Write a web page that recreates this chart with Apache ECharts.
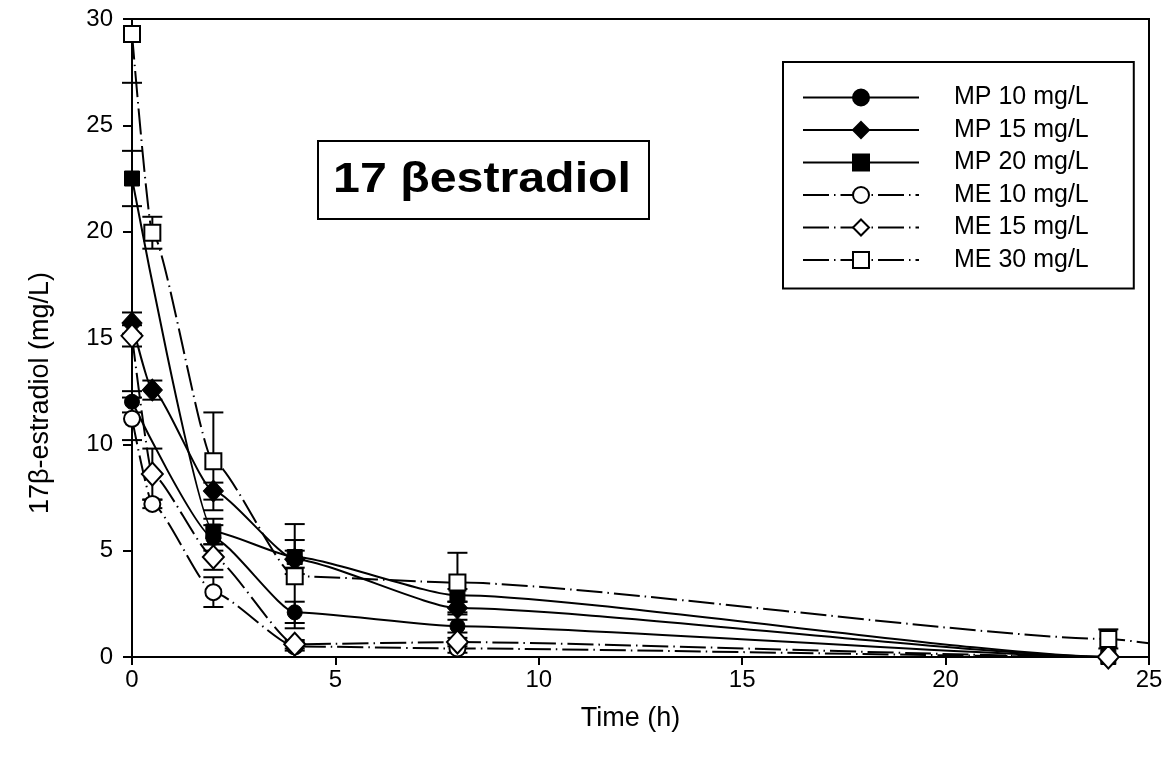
<!DOCTYPE html>
<html><head><meta charset="utf-8">
<script src="https://cdn.jsdelivr.net/npm/echarts@6/dist/echarts.min.js"></script>
<style>html,body{margin:0;padding:0;background:#fff}#c{width:1176px;height:764px}</style>
</head><body><div id="c"></div>
<script>
// ---- data ----
const seriesNames = ['MP 10 mg/L','MP 15 mg/L','MP 20 mg/L','ME 10 mg/L','ME 15 mg/L','ME 30 mg/L'];

const mp10Time  = [0, 2, 4, 8, 24];
const mp10Value = [12.0, 5.6, 2.1, 1.45, 0];
const mp10Sd    = [0.5, 0.6, 0.5, 0.3, 0];

const mp15Time  = [0, 0.5, 2, 4, 8, 24];
const mp15Value = [15.7, 12.55, 7.8, 4.6, 2.3, 0];
const mp15Sd    = [0.5, 0.45, 0.4, 0.4, 0.3, 0];

const mp20Time  = [0, 2, 4, 8, 24];
const mp20Value = [22.5, 5.9, 4.7, 2.9, 0];
const mp20Sd    = [1.3, 0.6, 0.8, 0.3, 0];

const me10Time  = [0, 0.5, 2, 4, 8, 24];
const me10Value = [11.2, 7.2, 3.05, 0.5, 0.4, 0];
const me10Sd    = [1.0, 0.2, 0.7, 0.2, 0.2, 0];

const me15Time  = [0, 0.5, 2, 4, 8, 24];
const me15Value = [15.1, 8.6, 4.7, 0.6, 0.7, 0];
const me15Sd    = [0.5, 1.2, 0.6, 0.2, 0.2, 0];

const me30Time  = [0, 0.5, 2, 4, 8, 24];
const me30Value = [29.3, 19.95, 9.2, 3.8, 3.5, 0.85];
const me30Sd    = [2.3, 0.75, 2.3, 2.45, 1.4, 0.45];

// end of fitted curves at the right edge (t = 25)
const tailTime   = 25;
const tailValues = [0, 0, 0, 0, 0, 0.65];

const xTicks = [0, 5, 10, 15, 20, 25];
const yTicks = [0, 5, 10, 15, 20, 25, 30];
const titleText = '17 βestradiol';
const xName = 'Time (h)';
const yName = '17β-estradiol (mg/L)';

// ---- build ----
const groups = [
  {t: mp10Time, v: mp10Value, sd: mp10Sd},
  {t: mp15Time, v: mp15Value, sd: mp15Sd},
  {t: mp20Time, v: mp20Value, sd: mp20Sd},
  {t: me10Time, v: me10Value, sd: me10Sd},
  {t: me15Time, v: me15Value, sd: me15Sd},
  {t: me30Time, v: me30Value, sd: me30Sd}
];
const symbols = ['circle','diamond','rect','circle','diamond','rect'];
const sizes = [15, [20, 22], 15, 16, [21, 23], 16];
const filled = [true, true, true, false, false, false];
const dash = [26, 5, 1.5, 5];

const yMin = yTicks[0], yMax = yTicks[yTicks.length - 1];
const xMin = xTicks[0], xMax = xTicks[xTicks.length - 1];

const errData = [];
groups.forEach(g => g.t.forEach((t, i) => {
  if (g.sd[i] > 0) errData.push([t, g.v[i] - g.sd[i], g.v[i] + g.sd[i]]);
}));

const series = [];
series.push({
  type: 'custom',
  name: 'err',
  z: 1,
  silent: true,
  data: errData,
  renderItem: function (params, api) {
    const x = api.value(0), lo = api.value(1), hi = api.value(2);
    const top = api.coord([x, Math.min(hi, yMax)]);
    const bot = api.coord([x, Math.max(lo, yMin)]);
    const w = 10;
    const st = {stroke: '#000', lineWidth: 2};
    const ch = [{type: 'line', shape: {x1: top[0], y1: top[1], x2: bot[0], y2: bot[1]}, style: st}];
    if (hi <= yMax) ch.push({type: 'line', shape: {x1: top[0] - w, y1: top[1], x2: top[0] + w, y2: top[1]}, style: st});
    if (lo >= yMin) ch.push({type: 'line', shape: {x1: bot[0] - w, y1: bot[1], x2: bot[0] + w, y2: bot[1]}, style: st});
    return {type: 'group', children: ch};
  }
});

groups.forEach((g, k) => {
  const data = g.t.map((t, i) => [t, g.v[i]]);
  data.push({value: [tailTime, tailValues[k]], symbol: 'none'});
  series.push({
    type: 'line',
    name: seriesNames[k],
    data: data,
    smooth: 0.18,
    smoothMonotone: 'x',
    symbol: symbols[k],
    symbolSize: sizes[k],
    showSymbol: true,
    showAllSymbol: true,
    z: 3,
    lineStyle: {color: '#000', width: 2, type: k < 3 ? 'solid' : dash},
    itemStyle: filled[k]
      ? {color: '#000', borderColor: '#000', borderWidth: 1}
      : {color: '#fff', borderColor: '#000', borderWidth: 2},
    emphasis: {disabled: true},
    animation: false
  });
});

const fontFam = 'Liberation Sans, Arial, sans-serif';
const chart = echarts.init(document.getElementById('c'));
chart.setOption({
  animation: false,
  backgroundColor: '#fff',
  grid: {left: 132, right: 27, top: 19, bottom: 107, containLabel: false, outerBoundsMode: 'none',
         show: true, borderColor: '#000', borderWidth: 2, backgroundColor: 'transparent'},
  xAxis: {
    type: 'value', min: xMin, max: xMax, interval: 5,
    name: xName, nameLocation: 'middle', nameGap: 48,
    nameTextStyle: {color: '#000', fontSize: 27, fontFamily: fontFam, padding: [0, 20, 0, 0]},
    axisLine: {show: true, onZero: false, lineStyle: {color: '#000', width: 2}},
    axisTick: {show: true, inside: false, length: 8, lineStyle: {color: '#000', width: 2}},
    axisLabel: {color: '#000', fontSize: 24, fontFamily: fontFam, margin: 11},
    splitLine: {show: false}
  },
  yAxis: {
    type: 'value', min: yMin, max: yMax, interval: 5,
    name: yName, nameLocation: 'middle', nameGap: 78, nameRotate: 90,
    nameTextStyle: {color: '#000', fontSize: 27, fontFamily: fontFam, padding: [0, 110, 0, 0]},
    axisLine: {show: true, onZero: false, lineStyle: {color: '#000', width: 2}},
    axisTick: {show: true, inside: false, length: 9, lineStyle: {color: '#000', width: 2}},
    axisLabel: {color: '#000', fontSize: 24, fontFamily: fontFam, margin: 19},
    splitLine: {show: false}
  },
  legend: {
    data: seriesNames,
    orient: 'vertical',
    left: 783, top: 62,
    itemWidth: 116, itemHeight: 20, itemGap: 7.5,
    padding: [23, 45, 16, 19],
    borderColor: '#000', borderWidth: 2, backgroundColor: '#fff',
    selectedMode: false,
    textStyle: {color: '#000', fontSize: 25, fontFamily: fontFam, padding: [0, 0, 0, 30]}
  },
  graphic: [
    {type: 'rect', left: 317, top: 140, z: 10,
     shape: {width: 331, height: 78},
     style: {fill: '#fff', stroke: '#000', lineWidth: 2}},
    {type: 'text', x: 482, y: 180, z: 11, scaleX: 1.15,
     style: {text: titleText, fill: '#000', font: 'bold 42px ' + fontFam, textAlign: 'center', textVerticalAlign: 'middle'}}
  ],
  series: series
});
</script></body></html>
